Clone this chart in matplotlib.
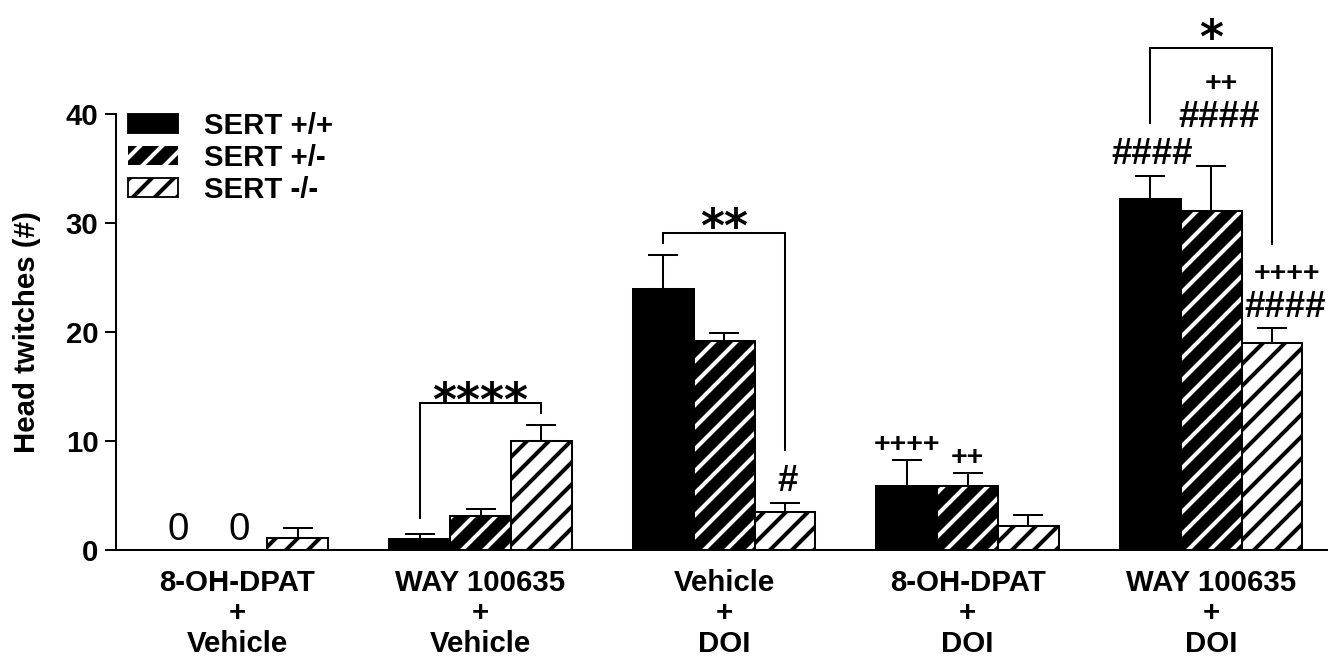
import numpy as np
import matplotlib
matplotlib.use("Agg")
import matplotlib.pyplot as plt
from matplotlib.patches import Patch

# ---------------- data ----------------
groups = ["8-OH-DPAT\n+\nVehicle", "WAY 100635\n+\nVehicle", "Vehicle\n+\nDOI",
          "8-OH-DPAT\n+\nDOI", "WAY 100635\n+\nDOI"]
series = ["SERT +/+", "SERT +/-", "SERT -/-"]
wt = [0.0, 1.0, 23.9, 5.9, 32.2]
wt_err = [0.0, 0.5, 3.2, 2.4, 2.1]
het = [0.0, 3.1, 19.2, 5.9, 31.1]
het_err = [0.0, 0.7, 0.7, 1.2, 4.1]
ko = [1.1, 10.0, 3.5, 2.2, 19.0]
ko_err = [0.9, 1.5, 0.8, 1.0, 1.4]
yticks = [0, 10, 20, 30, 40]

# significance brackets
sig_labels = ["****", "**", "*"]
br_left = [0.75, 1.75, 3.75]
br_right = [1.25, 2.25, 4.25]
br_top = [13.5, 29.1, 46.1]
br_left_bottom = [2.9, 28.2, 39.2]
br_right_bottom = [12.6, 9.2, 28.1]
sig_y = [12.3, 28.3, 45.6]

# other annotations
ann_text = ["0", "0", "#", "++++", "++", "####", "####", "++", "++++", "####"]
ann_x = [-0.242, 0.008, 2.259, 2.75, 3.0, 3.758, 4.033, 4.041, 4.312, 4.304]
ann_y = [0.92, 0.92, 5.4, 9.0, 7.8, 35.4, 38.8, 42.1, 24.7, 21.4]

# ---------------- style ----------------
DPI = 132
plt.rcParams["font.family"] = ["Liberation Sans", "DejaVu Sans"]
plt.rcParams["hatch.linewidth"] = 2.2
plt.rcParams["axes.linewidth"] = 1.1

fig = plt.figure(figsize=(1328 / DPI, 658 / DPI), dpi=DPI)
ax = fig.add_axes([116 / 1328, 108 / 658, 1212 / 1328, 436 / 658])

x = np.arange(len(groups))
w = 0.25
lw = 1.1
HATCH = "//"

# SERT +/+ : solid black
ax.bar(x - w, wt, w, color="black", edgecolor="black", linewidth=lw, zorder=2)
# SERT +/- : black with white hatch
ax.bar(x, het, w, facecolor="black", edgecolor="white", hatch=HATCH, linewidth=0, zorder=2)
ax.bar(x, het, w, fill=False, edgecolor="black", linewidth=lw, zorder=3)
# SERT -/- : white with black hatch
ax.bar(x + w, ko, w, facecolor="white", edgecolor="black", hatch=HATCH, linewidth=lw, zorder=2)

for off, vals, errs in [(-w, wt, wt_err), (0, het, het_err), (w, ko, ko_err)]:
    vals = np.asarray(vals)
    errs = np.asarray(errs)
    m = vals > 0
    ax.errorbar(x[m] + off, vals[m], yerr=[np.zeros(m.sum()), errs[m]], fmt="none",
                ecolor="black", elinewidth=1.1, capsize=8.2, capthick=1.1, zorder=1)

# brackets
for lab, xl, xr, yt, yl, yr, ys in zip(sig_labels, br_left, br_right, br_top,
                                       br_left_bottom, br_right_bottom, sig_y):
    ax.plot([xl, xl, xr, xr], [yl, yt, yt, yr], color="black", lw=1.1,
            clip_on=False, zorder=4, solid_joinstyle="miter")
    ax.text((xl + xr) / 2, ys, lab, ha="center", va="baseline", fontsize=25,
            fontweight="bold", family="DejaVu Sans", clip_on=False)

for t, tx, ty in zip(ann_text, ann_x, ann_y):
    if t == "0":
        ax.text(tx, ty, t, ha="center", va="baseline", fontsize=21, clip_on=False)
    elif t.startswith("#"):
        ax.text(tx, ty, t, ha="center", va="baseline", fontsize=20,
                fontweight="bold", clip_on=False)
    else:
        ax.text(tx, ty, t, ha="center", va="baseline", fontsize=15.5,
                fontweight="bold", clip_on=False)

# axes
ax.set_xlim(-0.497, 4.48)
ax.set_ylim(0, 40)
ax.spines["top"].set_visible(False)
ax.spines["right"].set_visible(False)
ax.set_yticks(yticks)
ax.set_yticklabels([str(v) for v in yticks], fontsize=16, fontweight="bold")
ax.tick_params(axis="y", direction="out", length=6, width=1.1, pad=3.5)
ax.set_xticks(x)
ax.set_xticklabels(groups, fontsize=16, fontweight="bold")
ax.tick_params(axis="x", length=0, pad=10.5)
for lbl in ax.get_xticklabels():
    lbl.set_linespacing(1.1)

fig.text(27 / 1328, 1 - 332 / 658, "Head twitches (#)", rotation=90, ha="center",
         va="center", fontsize=16, fontweight="bold")

handles = [Patch(facecolor="black", edgecolor="black", linewidth=1.0),
           Patch(facecolor="black", edgecolor="white", hatch=HATCH, linewidth=0),
           Patch(facecolor="white", edgecolor="black", hatch=HATCH, linewidth=1.0)]
leg = ax.legend(handles, series, loc="upper left", bbox_to_anchor=(128 / 1328, 1 - 112 / 658),
                bbox_transform=fig.transFigure, frameon=False, borderpad=0, borderaxespad=0,
                handlelength=1.7, handleheight=0.62, labelspacing=0.14, handletextpad=0.9,
                prop={"size": 16, "weight": "bold"})

fig.savefig("out.png", dpi=DPI)
